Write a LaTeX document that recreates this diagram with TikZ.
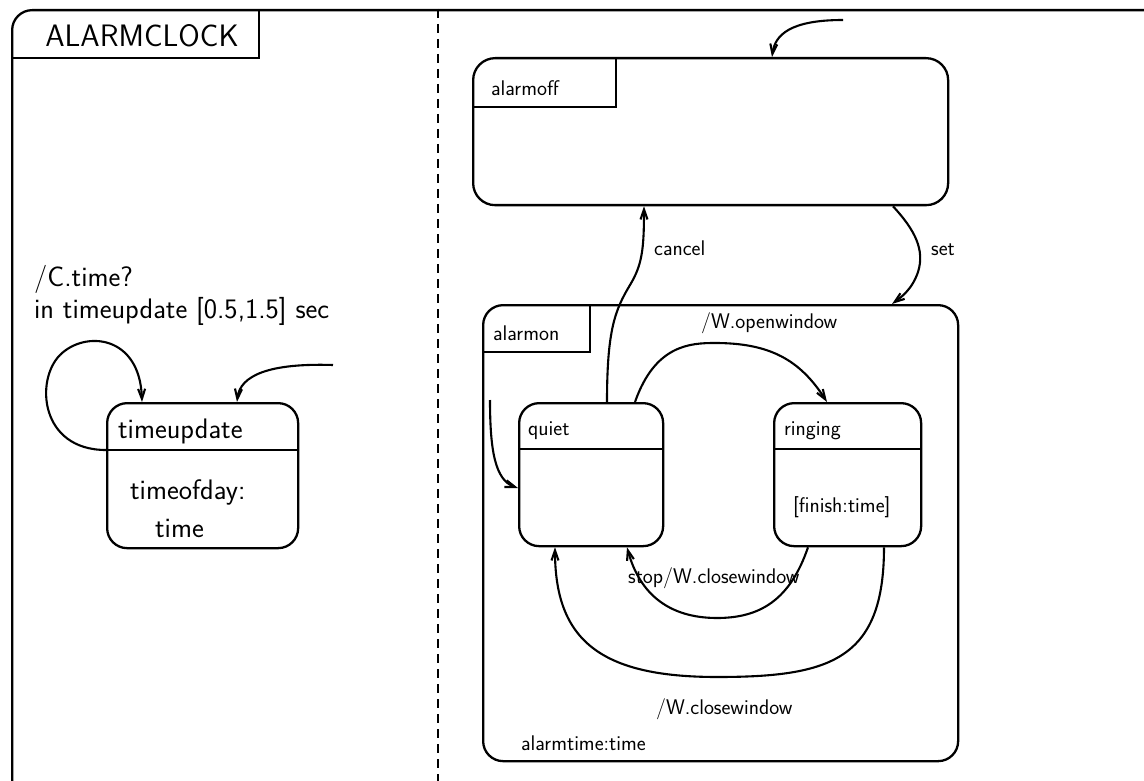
\documentclass[tikz,border=0pt]{standalone}
\usetikzlibrary{arrows.meta}
\begin{document}
\begin{tikzpicture}[x=1pt,y=-1pt, line width=2.3pt,
  stbox/.style={draw, rounded corners=20pt, inner sep=0pt, anchor=north west},
  lbl/.style={anchor=base west, inner sep=0pt, font=\sffamily\fontsize{21.2}{25}\selectfont},
  biglbl/.style={anchor=base west, inner sep=0pt, font=\sffamily\fontsize{28.2}{33}\selectfont},
  arr/.style={-{Straight Barb[length=10pt,width=7pt]}, line width=2.1pt},
  tabline/.style={line width=2.1pt},
  sep/.style={dash pattern=on 9pt off 6pt, line width=2.4pt}]
\fill[white] (0,0) rectangle (1144,781);
\useasboundingbox (0,0) rectangle (1144,781);
\clip (0,0) rectangle (1144,781);

% outer AND-state
\node[stbox, minimum width=1160pt, minimum height=800pt] (clock) at (11,9) {};
\draw[tabline] (11,58) -- (259,58) -- (259,9);
\node[biglbl, anchor=base, font=\sffamily\fontsize{31}{36}\selectfont] (title) at (142,47) {ALARMCLOCK};
\draw[sep] (438,9) -- (438,781);

% left component
\node[stbox, minimum width=191pt, minimum height=145pt] (tu) at (106,402) {};
\draw (106,450) -- (297,450);
\node[biglbl] (tuname) at (117,438) {timeupdate};
\node[biglbl] (tuvar1) at (129,499) {timeofday:};
\node[biglbl] (tuvar2) at (154,537) {time};
\node[biglbl] (tulab1) at (33,286) {/C.time?};
\node[biglbl] (tulab2) at (33,318) {in timeupdate [0.5,1.5] sec};
\coordinate (tuinit) at (333,365);
\coordinate (tuloop) at (106,450);
\draw[arr] (tuloop) .. controls (40,450) and (35,380) .. (60,355)
  .. controls (85,330) and (140,335) .. (tu.north west -| 142,0);
\draw[arr] (tuinit) .. controls (270,363) and (240,375) .. (tu.north west -| 237,0);

% right component
\node[stbox, rounded corners=22pt, minimum width=475pt, minimum height=147pt] (off) at (472,57) {};
\draw[tabline] (472,107) -- (616,107) -- (616,57);
\node[lbl] (offname) at (490,96) {alarmoff};
\coordinate (offinit) at (843,20);
\draw[arr] (offinit) .. controls (790,20) and (775,35) .. (off.north west -| 772,0);

\node[stbox, minimum width=475pt, minimum height=456pt] (on) at (482,304) {};
\draw[tabline] (482,352) -- (590,352) -- (590,304);
\node[lbl] (onname) at (492,340) {alarmon};
\node[lbl] (onvar) at (520,750) {alarmtime:time};

\node[stbox, minimum width=144pt, minimum height=143pt] (quiet) at (518,402) {};
\draw (518,449) -- (662,449);
\node[lbl] (qname) at (527,435) {quiet};

\node[stbox, minimum width=147pt, minimum height=143pt] (ring) at (773,402) {};
\draw (773,449) -- (920,449);
\node[lbl] (rname) at (783,435) {ringing};
\node[lbl] (rvar) at (792,512) {[finish:time]};

% transitions
\draw[arr] (off.south west -| 893,0) .. controls (915,230) and (925,250) .. (918,272)
  .. controls (912,290) and (900,298) .. (on.north west -| 892,0);
\node[lbl] (setlab) at (930,255) {set};

\draw[arr] (quiet.north west -| 607,0) .. controls (607,330) and (615,310) .. (630,285)
  .. controls (642,265) and (644,250) .. (off.south west -| 644,0);
\node[lbl] (cancellab) at (653,255) {cancel};

\coordinate (qinit) at (490,400);
\draw[arr] (qinit) .. controls (490,450) and (495,480) .. (quiet.west |- 0,488);

\draw[arr] (quiet.north west -| 635,0) .. controls (655,345) and (690,343) .. (715,343)
  .. controls (770,343) and (800,360) .. (ring.north west -| 827,0);
\node[lbl] (openlab) at (700,328) {/W.openwindow};

\draw[arr] (ring.south west -| 808,0) .. controls (790,600) and (760,618) .. (717,618)
  .. controls (670,618) and (640,595) .. (quiet.south west -| 627,0);
\node[lbl] (stoplab) at (627,583) {stop/W.closewindow};

\draw[arr] (ring.south west -| 884,0) .. controls (884,660) and (830,677) .. (717,677)
  .. controls (600,677) and (555,640) .. (quiet.south west -| 555,0);
\node[lbl] (closelab) at (655,714) {/W.closewindow};
\end{tikzpicture}
\end{document}
